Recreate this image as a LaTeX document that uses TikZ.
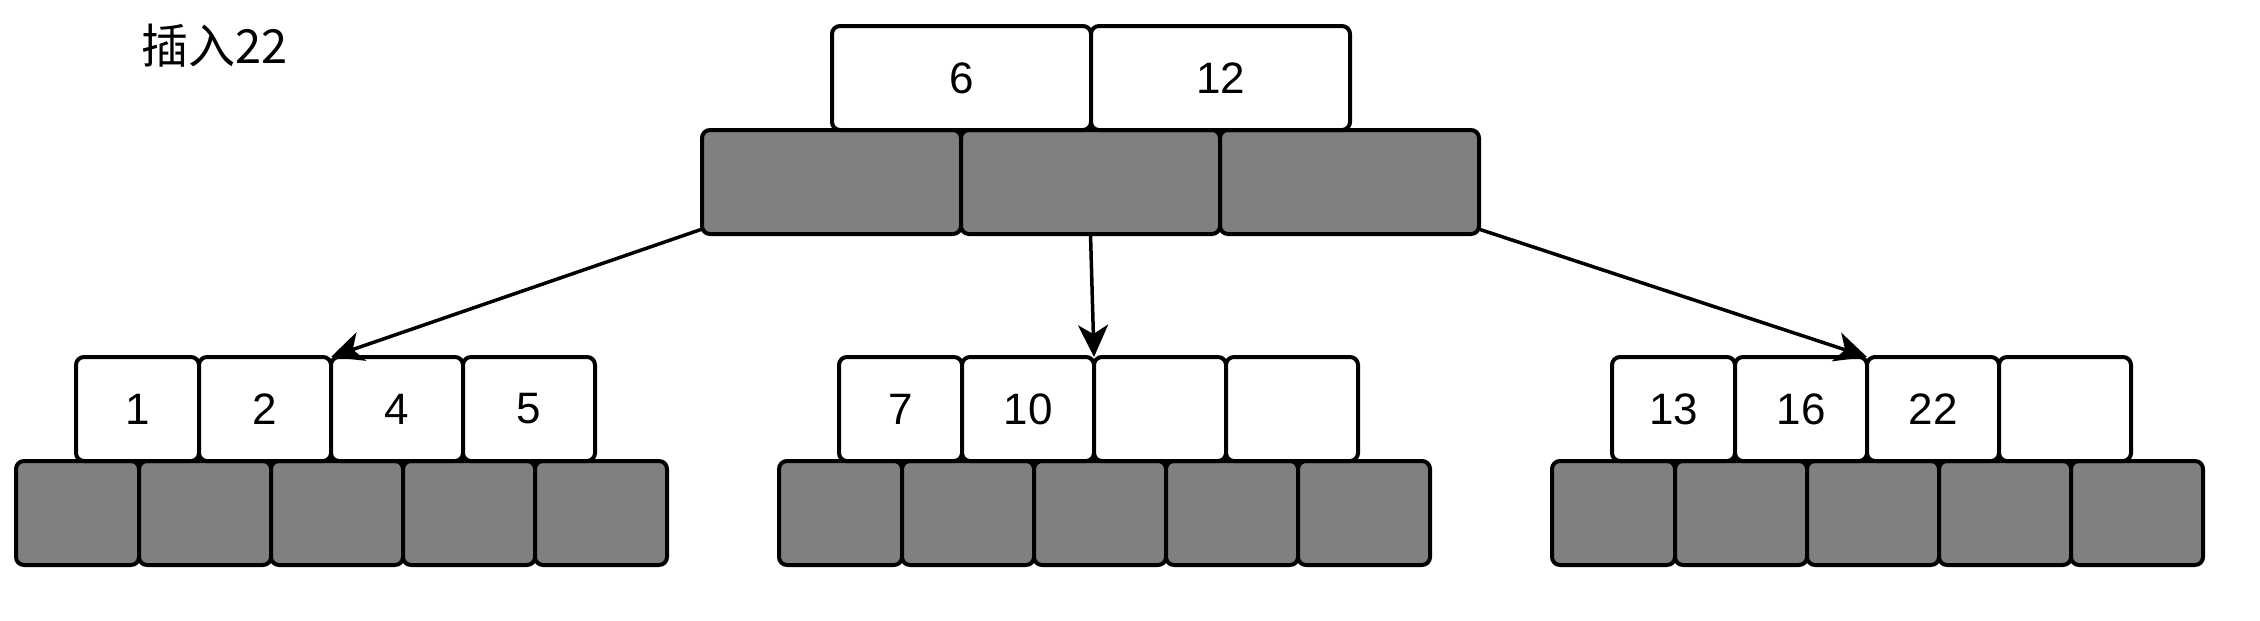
\documentclass[tikz,border=0pt]{standalone}
\usepackage{fontspec}
\setmainfont{Liberation Sans}
\newfontfamily\cjkfont{Noto Sans CJK SC}
\usetikzlibrary{arrows.meta, positioning}
\tikzset{cell/.style = {draw, line width=4pt, rounded corners=8pt, inner sep=0pt, outer sep=0pt, minimum height=104pt}}
\tikzset{keycell/.style = {cell, fill=white, font=\fontsize{44}{52}\selectfont}}
\tikzset{ptrcell/.style = {cell, fill=gray}}
\tikzset{link/.style = {line width=3.5pt, -{Stealth[length=32pt, width=30pt, inset=9pt]}}}

\begin{document}
\begin{tikzpicture}[x=1pt, y=-1pt]
\useasboundingbox (0,0) rectangle (2260,621);
\node[anchor=west, font=\cjkfont\fontsize{47}{55}\selectfont] (caption) at (138,46) {插入22};
\node[ptrcell, minimum width=259pt, anchor=north west] (rootptr1) at (702,130) {};
\node[ptrcell, minimum width=259pt, right=0pt of rootptr1] (rootptr2) {};
\node[ptrcell, minimum width=259pt, right=0pt of rootptr2] (rootptr3) {};
\node[keycell, minimum width=259pt, anchor=south west, xshift=130pt] (rootkey1) at (rootptr1.north west) {6};
\node[keycell, minimum width=259pt, right=0pt of rootkey1] (rootkey2) {12};
\foreach \name/\gx/\ka/\kb/\kc/\kd in {left/16/1/2/4/5, mid/779/7/10/{}/{}, right/1552/13/16/22/{}} {
  \node[ptrcell, minimum width=123pt, anchor=north west] (\name ptr1) at (\gx,461) {};
  \node[ptrcell, minimum width=132pt, right=0pt of \name ptr1] (\name ptr2) {};
  \node[ptrcell, minimum width=132pt, right=0pt of \name ptr2] (\name ptr3) {};
  \node[ptrcell, minimum width=132pt, right=0pt of \name ptr3] (\name ptr4) {};
  \node[ptrcell, minimum width=132pt, right=0pt of \name ptr4] (\name ptr5) {};
  \node[keycell, minimum width=123pt, anchor=south west, xshift=60pt] (\name key1) at (\name ptr1.north west) {\ka};
  \node[keycell, minimum width=132pt, right=0pt of \name key1] (\name key2) {\kb};
  \node[keycell, minimum width=132pt, right=0pt of \name key2] (\name key3) {\kc};
  \node[keycell, minimum width=132pt, right=0pt of \name key3] (\name key4) {\kd};
}
\draw[link] (rootptr1.200) -- (leftkey2.north east);
\draw[link] (rootptr2.south) -- (midkey2.north east);
\draw[link] (rootptr3.340) -- (rightkey2.north east);
\end{tikzpicture}
\end{document}
